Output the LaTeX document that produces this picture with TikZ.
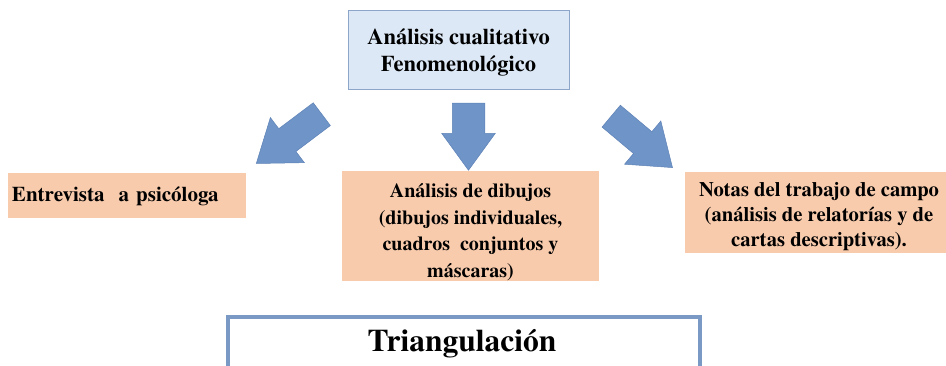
\documentclass[tikz,border=0pt]{standalone}
\usepackage{fontspec}
\setmainfont{texgyretermes}[Extension=.otf, UprightFont=*-regular, BoldFont=*-bold,
  ItalicFont=*-italic, BoldItalicFont=*-bolditalic]
\usetikzlibrary{shapes.arrows}
\definecolor{skyfill}{RGB}{220,232,246}
\definecolor{skyline}{RGB}{140,165,200}
\definecolor{peach}{RGB}{248,203,173}
\definecolor{arrowblue}{RGB}{110,148,200}
\definecolor{arrowline}{RGB}{95,130,182}
\definecolor{frameblue}{RGB}{122,153,196}
\begin{document}
\begin{tikzpicture}[
  x=1pt, y=1pt,
  topbox/.style={draw=skyline, fill=skyfill, line width=0.8pt, align=center,
    minimum width=221pt, minimum height=79pt, inner sep=0pt,
    text height=50pt, text depth=5pt,
    font=\bfseries\fontsize{22.5}{27}\selectfont},
  itembox/.style={fill=peach, inner sep=0pt},
  blockarrow/.style={single arrow, fill=arrowblue, draw=arrowline, line width=0.5pt,
    inner xsep=0pt, inner ysep=14pt, minimum width=0pt, anchor=tail,
    single arrow head extend=14pt, single arrow tip angle=72},
]
\useasboundingbox (0,0) rectangle (946,-366);
% top
\node[topbox] (analisis) at (458.5,-49.5) {Análisis cualitativo\\Fenomenológico};
% three sources
\node[itembox, minimum width=238pt, minimum height=45pt, text width=230pt, align=left,
  font=\bfseries\fontsize{21}{26}\selectfont]
  (entrevista) at (127,-196) {Entrevista\ \ a psicóloga};
\node[itembox, minimum width=257pt, minimum height=107pt, align=center,
  text height=106pt, text depth=4pt,
  font=\bfseries\fontsize{20}{26.5}\selectfont]
  (dibujos) at (470.5,-226.5) {Análisis de dibujos\\(dibujos individuales,\\cuadros\ \ conjuntos y\\máscaras)};
\node[itembox, minimum width=268pt, minimum height=81pt, align=center,
  text height=73.5pt, text depth=4.5pt,
  font=\bfseries\fontsize{20.6}{25}\selectfont]
  (notas) at (819,-212.5) {Notas del trabajo de campo\\(análisis de relatorías y de\\cartas descriptivas).};
% block arrows
\node[blockarrow, minimum height=82pt, rotate=217] (flechaL) at (322,-114) {};
\node[blockarrow, minimum height=67pt, inner ysep=16pt, single arrow head extend=10.5pt,
  rotate=-90] (flechaC) at (468.5,-103) {};
\node[blockarrow, minimum height=80pt, rotate=-40] (flechaR) at (611,-116) {};
% bottom
\draw[frameblue, line width=4pt, fill=white] (228,-317) rectangle (700,-380);
\node[anchor=base, font=\bfseries\fontsize{31.5}{36}\selectfont] (triang) at (462,-352) {Triangulación};
\end{tikzpicture}
\end{document}
